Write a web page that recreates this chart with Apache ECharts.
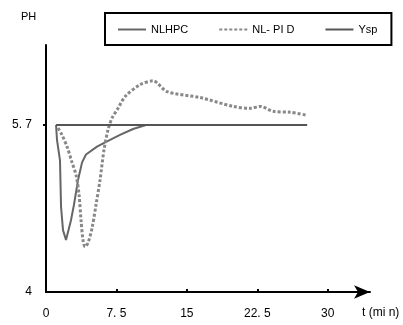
<!DOCTYPE html>
<html>
<head>
<meta charset="utf-8">
<script src="https://cdn.jsdelivr.net/npm/echarts@6/dist/echarts.min.js"></script>
<style>
  html, body { margin: 0; padding: 0; background: #fff; }
  #chart { width: 403px; height: 325px; }
</style>
</head>
<body>
<div id="chart"></div>
<script>
// tick values and the text shown for them
const xTicks = [0, 7.5, 15, 22.5, 30];
const xTickText = ['0', '7. 5', '15', '22. 5', '30'];
const yTicks = [4, 5.7];
const yTickText = ['4', '5. 7'];

const seriesNames = ['NLHPC', 'NL- PI D', 'Ysp'];

// [t (min), PH]
const nlhpc = [
  [1.07, 5.70], [1.17, 5.55], [1.49, 5.34], [1.60, 4.87], [1.81, 4.63],
  [2.13, 4.53], [2.34, 4.55], [2.66, 4.73], [2.98, 4.89], [3.41, 5.14],
  [3.84, 5.32], [4.26, 5.40], [5.43, 5.48], [6.82, 5.55], [7.88, 5.60],
  [9.27, 5.66], [10.65, 5.70], [27.8, 5.70]
];
const nlpid = [
  [1.28, 5.67], [1.70, 5.60], [2.24, 5.48], [2.77, 5.32], [3.20, 5.19],
  [3.52, 4.99], [3.73, 4.73], [3.94, 4.53], [4.15, 4.46], [4.47, 4.50],
  [4.90, 4.65], [5.33, 4.89], [5.75, 5.14], [6.18, 5.45], [6.60, 5.65],
  [7.03, 5.77], [7.67, 5.87], [8.42, 5.99], [10.01, 6.11], [11.40, 6.15],
  [12.89, 6.04], [16.41, 5.98], [19.92, 5.89], [21.73, 5.87], [22.80, 5.89],
  [24.18, 5.84], [26.0, 5.83], [27.8, 5.80]
];
const ysp = [[1.07, 5.7], [27.8, 5.7]];

const font = 'Liberation Sans, Arial, sans-serif';

const chart = echarts.init(document.getElementById('chart'));
chart.setOption({
  backgroundColor: '#fff',
  animation: false,
  grid: { left: 46, right: 33, top: 45, bottom: 33 },
  legend: {
    left: 105,
    top: 13,
    width: 262,
    padding: [11, 14, 10, 12],
    borderColor: '#000',
    borderWidth: 2,
    itemWidth: 28,
    itemHeight: 10,
    itemGap: 30,
    itemStyle: { opacity: 0, borderWidth: 0 },
    data: seriesNames,
    textStyle: { color: '#000', fontSize: 11, fontFamily: font }
  },
  xAxis: {
    type: 'value',
    min: 0,
    max: 34.5,
    splitLine: { show: false },
    axisLine: {
      lineStyle: { color: '#000', width: 2 },
      symbol: ['none', 'arrow'],
      symbolSize: [10, 16]
    },
    axisTick: {
      inside: true,
      length: 3,
      lineStyle: { color: '#000', width: 2 },
      customValues: xTicks.slice(1)
    },
    axisLabel: {
      margin: 16,
      color: '#000',
      fontSize: 12,
      fontFamily: font,
      customValues: xTicks,
      formatter: v => xTickText[xTicks.indexOf(v)]
    }
  },
  yAxis: {
    type: 'value',
    min: 4,
    max: 6.515,
    splitLine: { show: false },
    axisLine: { lineStyle: { color: '#000', width: 2 } },
    axisTick: {
      length: 3,
      lineStyle: { color: '#000', width: 2 },
      customValues: [5.7]
    },
    axisLabel: {
      margin: 14,
      color: '#000',
      fontSize: 12,
      fontFamily: font,
      customValues: yTicks,
      formatter: v => yTickText[yTicks.indexOf(v)]
    }
  },
  graphic: [
    { type: 'text', left: 21, top: 11, style: { text: 'PH', fill: '#000', font: '11px ' + font } },
    { type: 'text', left: 362, top: 307, style: { text: 't (mi n)', fill: '#000', font: '12px ' + font } }
  ],
  series: [
    {
      name: seriesNames[0], type: 'line', data: nlhpc, symbol: 'none',
      lineStyle: { color: '#666', width: 2 }, itemStyle: { color: '#666' }
    },
    {
      name: seriesNames[1], type: 'line', data: nlpid, symbol: 'none', smooth: 0.3,
      lineStyle: { color: '#888', width: 3, type: [3, 2] }, itemStyle: { color: '#888' }
    },
    {
      name: seriesNames[2], type: 'line', data: ysp, symbol: 'none',
      lineStyle: { color: '#555', width: 2 }, itemStyle: { color: '#555' }
    }
  ]
});
</script>
</body>
</html>
